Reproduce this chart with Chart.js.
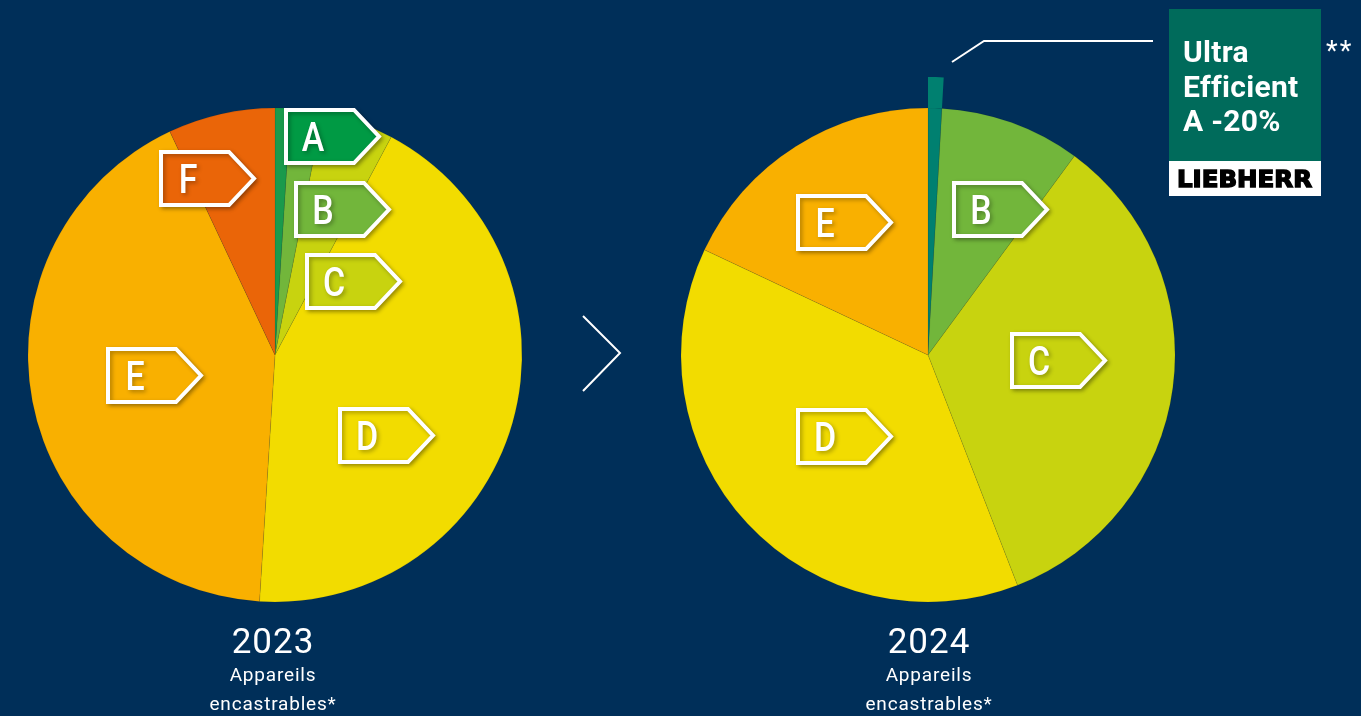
<!DOCTYPE html>
<html>
<head>
<meta charset="utf-8">
<script src="https://cdn.jsdelivr.net/npm/chart.js@4.4.1/dist/chart.umd.min.js"></script>
<style>
  html, body { margin: 0; padding: 0; background: #002f59; overflow: hidden; }
  #wrap { position: relative; width: 1361px; height: 716px; }
  canvas { position: absolute; top: 0; }
  #chart2023 { left: 0; }
  #chart2024 { left: 640px; }
</style>
</head>
<body>
<div id="wrap">
  <canvas id="chart2023" width="640" height="716"></canvas>
  <canvas id="chart2024" width="721" height="716"></canvas>
</div>
<script>
// energy classes and market shares (%)
var classes2023 = ['A', 'B', 'C', 'D', 'E', 'F'];
var shares2023 = [1.0, 2.1, 4.7, 43.2, 42.0, 7.0];

var classes2024 = ['A', 'B', 'C', 'D', 'E'];
var shares2024 = [0.9, 9.2, 34.0, 37.9, 18.0];

var yearLabels = ['2023', '2024'];
var subLabels = ['Appareils', 'encastrables*'];
var badgeLines = ['Ultra', 'Efficient', 'A -20%'];
var badgeBrand = 'LIEBHERR';

var classColors = {
    A: '#1a9a4c', B: '#72b63b', C: '#c8d30f', D: '#f2dc00', E: '#f9b000', F: '#ea6508'
};
var tagColors = {
    A: '#009a44', B: '#72b63b', C: '#c8d30f', D: '#f2dc00', E: '#f9b000', F: '#ea6508'
};
var ultraColor = '#008070';

// tag positions relative to the pie centre (top-left corner of tag)
var tagPos2023 = { A: [9, -247], F: [-116, -205], B: [19, -174], C: [30, -102], E: [-169, -8], D: [63, 52] };
var tagPos2024 = { B: [24, -174], E: [-132, -161], C: [82, -23], D: [-132, 53] };

function drawTag(ctx, x, y, letter, fill) {
    var w = 98, h = 57;
    ctx.save();
    ctx.shadowColor = 'rgba(0,0,0,0.3)';
    ctx.shadowBlur = 4;
    ctx.shadowOffsetX = 2;
    ctx.shadowOffsetY = 2;
    ctx.beginPath();
    ctx.moveTo(x + 2, y + 2);
    ctx.lineTo(x + 70, y + 2);
    ctx.lineTo(x + w - 3, y + h / 2);
    ctx.lineTo(x + 70, y + h - 2);
    ctx.lineTo(x + 2, y + h - 2);
    ctx.closePath();
    ctx.fillStyle = fill;
    ctx.fill();
    ctx.lineWidth = 4;
    ctx.lineJoin = 'miter';
    ctx.strokeStyle = '#ffffff';
    ctx.stroke();
    // letter
    ctx.translate(x + 29, y + h / 2 + 14);
    ctx.scale(0.85, 1);
    ctx.font = '500 40px Roboto';
    ctx.textAlign = 'center';
    ctx.textBaseline = 'alphabetic';
    ctx.fillStyle = '#ffffff';
    ctx.fillText(letter, 0, 0);
    ctx.restore();
}

function drawYear(ctx, cx, year) {
    ctx.save();
    ctx.fillStyle = '#ffffff';
    ctx.textAlign = 'center';
    ctx.textBaseline = 'alphabetic';
    ctx.letterSpacing = '1px';
    ctx.font = '400 35px Roboto';
    ctx.fillText(year, cx, 653);
    ctx.letterSpacing = '0.8px';
    ctx.font = '400 19px Roboto';
    ctx.fillText(subLabels[0], cx, 681);
    ctx.fillText(subLabels[1], cx, 710);
    ctx.restore();
}

var annotate2023 = {
    id: 'annotate2023',
    afterDraw: function(chart) {
        var ctx = chart.ctx;
        var arc = chart.getDatasetMeta(0).data[0];
        var cx = arc.x, cy = arc.y;
        // draw tags, thin slices first
        ['A', 'F', 'B', 'C', 'E', 'D'].forEach(function(k) {
            var p = tagPos2023[k];
            drawTag(ctx, cx + p[0], cy + p[1], k, tagColors[k]);
        });
        drawYear(ctx, cx - 2, yearLabels[0]);
        // chevron
        ctx.save();
        ctx.strokeStyle = '#ffffff';
        ctx.lineWidth = 2;
        ctx.beginPath();
        ctx.moveTo(583, 316);
        ctx.lineTo(620, 353);
        ctx.lineTo(583, 391);
        ctx.stroke();
        ctx.restore();
    }
};

var annotate2024 = {
    id: 'annotate2024',
    afterDraw: function(chart) {
        var ctx = chart.ctx;
        var arc = chart.getDatasetMeta(1).data[0];
        var cx = arc.x, cy = arc.y;
        ['B', 'E', 'C', 'D'].forEach(function(k) {
            var p = tagPos2024[k];
            drawTag(ctx, cx + p[0], cy + p[1], k, tagColors[k]);
        });
        drawYear(ctx, cx + 1, yearLabels[1]);

        ctx.save();
        ctx.translate(-640, 0);
        // leader line
        ctx.strokeStyle = '#ffffff';
        ctx.lineWidth = 2;
        ctx.beginPath();
        ctx.moveTo(952, 62);
        ctx.lineTo(984, 41);
        ctx.lineTo(1153, 41);
        ctx.stroke();
        // badge
        ctx.fillStyle = '#006b5b';
        ctx.fillRect(1169, 9, 152, 152);
        ctx.fillStyle = '#ffffff';
        ctx.fillRect(1169, 161, 152, 35);
        ctx.fillStyle = '#ffffff';
        ctx.font = 'bold 30px Roboto';
        ctx.textAlign = 'left';
        ctx.letterSpacing = '0.3px';
        ctx.fillText(badgeLines[0], 1183, 62);
        ctx.fillText(badgeLines[1], 1183, 97);
        ctx.fillText(badgeLines[2], 1183, 131);
        ctx.letterSpacing = '2px';
        ctx.font = '400 27px Roboto';
        ctx.fillText('**', 1326, 60);
        ctx.letterSpacing = '0px';
        // brand
        ctx.fillStyle = '#000000';
        ctx.strokeStyle = '#000000';
        ctx.lineWidth = 1.4;
        ctx.font = 'bold 23px "DejaVu Sans"';
        var tw = ctx.measureText(badgeBrand).width;
        ctx.translate(1177, 187);
        ctx.scale(135 / tw, 1);
        ctx.fillText(badgeBrand, 0, 0);
        ctx.strokeText(badgeBrand, 0, 0);
        ctx.restore();
    }
};

function makePie(canvasId, labels, datasets, padding, radius, plugin) {
    var ctx = document.getElementById(canvasId);
    return new Chart(ctx, {
        type: 'pie',
        data: { labels: labels, datasets: datasets },
        options: {
            responsive: false,
            animation: false,
            events: [],
            radius: radius,
            layout: { padding: padding },
            plugins: {
                legend: { display: false },
                tooltip: { enabled: false },
                title: { display: false }
            }
        },
        plugins: [plugin]
    });
}

var colors2023 = classes2023.map(function(k) { return classColors[k]; });
makePie('chart2023', classes2023, [{
    data: shares2023,
    backgroundColor: colors2023,
    borderWidth: 1,
    borderColor: 'rgba(0,0,0,0.08)',
    hoverOffset: 0
}], { left: 28, top: 108, right: 118, bottom: 114 }, 247, annotate2023);

var colors2024 = classes2024.map(function(k, i) { return i === 0 ? ultraColor : classColors[k]; });
var ring2024 = classes2024.map(function(k, i) { return i === 0 ? ultraColor : 'rgba(0,0,0,0)'; });
makePie('chart2024', classes2024, [{
    // outer ring: only the ultra efficient slice sticks out
    data: shares2024,
    backgroundColor: ring2024,
    borderWidth: 0,
    weight: 31,
    hoverOffset: 0
}, {
    data: shares2024,
    backgroundColor: colors2024,
    borderWidth: 1,
    borderColor: 'rgba(0,0,0,0.08)',
    weight: 247,
    hoverOffset: 0
}], { left: 10, top: 77, right: 155, bottom: 83 }, 278, annotate2024);
</script>
</body>
</html>
